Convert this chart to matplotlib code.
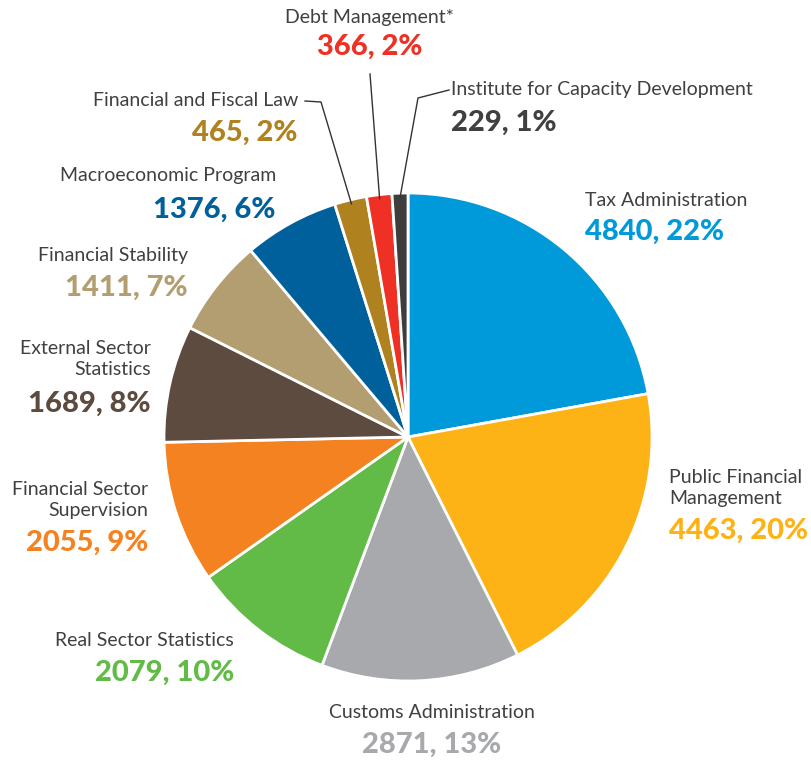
import numpy as np
import matplotlib
matplotlib.use("Agg")
import matplotlib.pyplot as plt

plt.rcParams["font.family"] = ["Lato", "DejaVu Sans"]

# Programmes, clockwise from 12 o'clock
programas = [
    "Tax Administration",
    "Public Financial\nManagement",
    "Customs Administration",
    "Real Sector Statistics",
    "Financial Sector\nSupervision",
    "External Sector\nStatistics",
    "Financial Stability",
    "Macroeconomic Program",
    "Financial and Fiscal Law",
    "Debt Management*",
    "Institute for Capacity Development",
]
valores = [4840, 4463, 2871, 2079, 2055, 1689, 1411, 1376, 465, 366, 229]
percentuais = [22, 20, 13, 10, 9, 8, 7, 6, 2, 2, 1]

cores = [
    "#009ADA", "#FDB316", "#A7A9AC", "#62BB47", "#F58220", "#5C4B3E",
    "#B39E71", "#00609C", "#B0811F", "#EE3124", "#3D3D3D",
]
cores_valor = list(cores)
cores_valor[-1] = "#404040"

W, H = 812, 761
CX, CY, R = 408, H - 437, 244

# (x, y do nome, y do valor, alinhamento) em pixels da imagem
rotulos = [
    (585, 200, 232, "left"),
    (669, 488, 531, "left"),
    (432, 712, 745, "center"),
    (234, 640, 673, "right"),
    (148, 500, 543, "right"),
    (151, 359, 404, "right"),
    (188, 256, 288, "right"),
    (276, 176, 210, "right"),
    (298, 101, 133, "right"),
    (370, 17, 47, "center"),
    (451, 90, 123, "left"),
]

# Linhas de chamada para as fatias pequenas: ponto de saída e cotovelo
chamadas = {
    8: [(305, 101), (321, 102)],
    9: [(370, 74)],
    10: [(449, 90), (418, 98)],
}

fig = plt.figure(figsize=(W / 100, H / 100), dpi=100)
ax = fig.add_axes([0, 0, 1, 1])

wedges, _ = ax.pie(
    valores, colors=cores, startangle=90, counterclock=False,
    center=(CX, CY), radius=R,
    wedgeprops=dict(edgecolor="white", linewidth=2),
)

for i, (nome, v, p) in enumerate(zip(programas, valores, percentuais)):
    x, yn, yv, ha = rotulos[i]
    ax.text(x, H - yn, nome, ha=ha, va="center", fontsize=14,
            color="#404040", linespacing=1.3)
    ax.text(x, H - yv, f"{v}, {p}%", ha=ha, va="center", fontsize=21,
            fontweight="black", color=cores_valor[i])

for i, pontos in chamadas.items():
    w = wedges[i]
    ang = np.radians((w.theta1 + w.theta2) / 2)
    xs = [p[0] for p in pontos] + [CX + (R - 4) * np.cos(ang)]
    ys = [H - p[1] for p in pontos] + [CY + (R - 4) * np.sin(ang)]
    ax.plot(xs, ys, color="#333333", lw=1)

ax.set_xlim(0, W)
ax.set_ylim(0, H)
ax.set_aspect("equal")
ax.axis("off")
fig.savefig("out.png", dpi=100)
